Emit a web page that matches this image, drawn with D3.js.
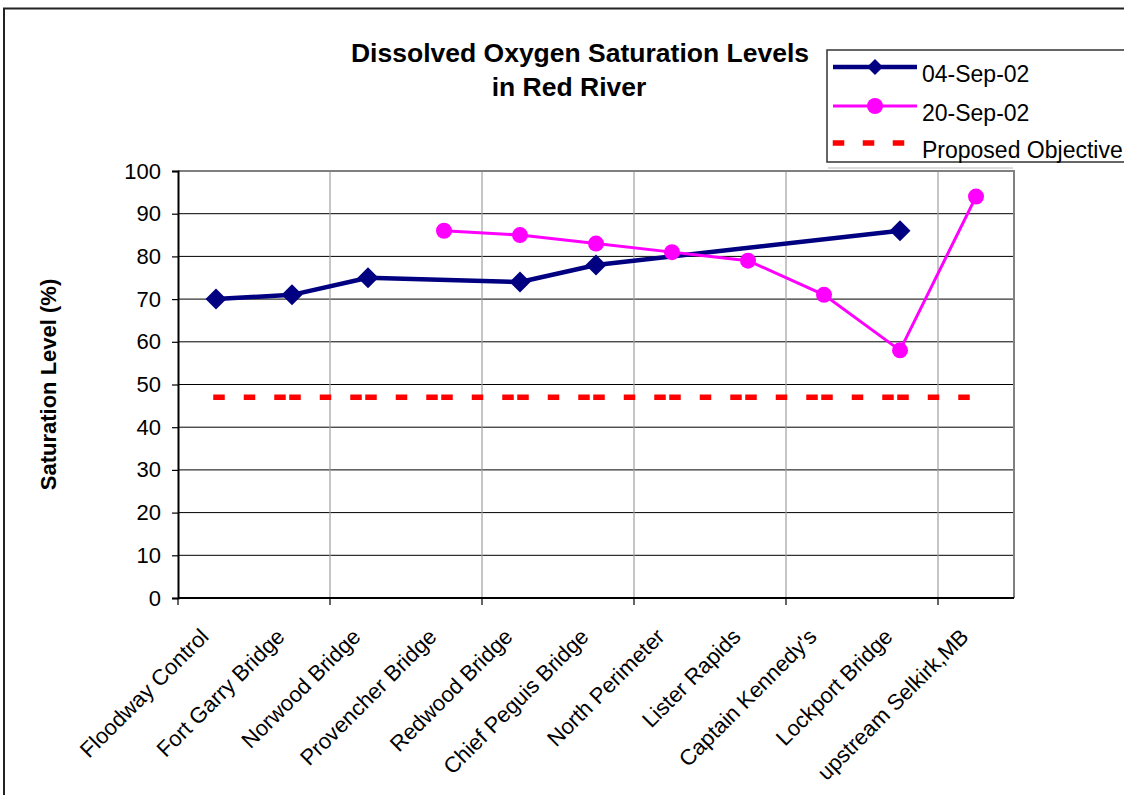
<!DOCTYPE html>
<html>
<head>
<meta charset="utf-8">
<script src="https://cdn.jsdelivr.net/npm/d3@7"></script>
<style>
  html, body { margin: 0; padding: 0; background: #fff; }
  svg { display: block; }
  text { font-family: "Liberation Sans", Arial, sans-serif; fill: #000; }
</style>
</head>
<body>
<svg id="chart" width="1124" height="795"></svg>
<script>
const categories = ["Floodway Control", "Fort Garry Bridge", "Norwood Bridge", "Provencher Bridge",
  "Redwood Bridge", "Chief Peguis Bridge", "North Perimeter", "Lister Rapids",
  "Captain Kennedy's", "Lockport Bridge", "upstream Selkirk,MB"];
const sep04 = [70, 71, 75, null, 74, 78, null, null, null, 86, null];
const sep20 = [null, null, null, 86, 85, 83, 81, 79, 71, 58, 94];
const objective = [47, 47, 47, 47, 47, 47, 47, 47, 47, 47, 47];
const yTicks = [0, 10, 20, 30, 40, 50, 60, 70, 80, 90, 100];
const seriesNames = ["04-Sep-02", "20-Sep-02", "Proposed Objective"];
const titleLines = ["Dissolved Oxygen Saturation Levels", "in Red River"];
const yTitle = "Saturation Level (%)";

const svg = d3.select("#chart");
const L = 178, R = 1014, T = 171, B = 598;

const x = d3.scaleBand().domain(categories).range([L, R]).padding(0);
const cx = c => x(c) + x.bandwidth() / 2;
const y = d3.scaleLinear().domain([0, 100]).range([B, T]);

// outer chart border
svg.append("rect").attr("x", 4).attr("y", 8.5).attr("width", 1300).attr("height", 1000)
  .attr("fill", "none").attr("stroke", "#222").attr("stroke-width", 2);

// title
svg.append("text").attr("x", 580).attr("y", 62).attr("text-anchor", "middle")
  .style("font-size", "26.5px").style("font-weight", "bold").text(titleLines[0]);
svg.append("text").attr("x", 569).attr("y", 96).attr("text-anchor", "middle")
  .style("font-size", "26.5px").style("font-weight", "bold").text(titleLines[1]);

// y title
svg.append("text").attr("transform", `translate(56,${(T + B) / 2}) rotate(-90)`)
  .attr("text-anchor", "middle").style("font-size", "22px").style("font-weight", "bold")
  .text(yTitle);

// horizontal gridlines
svg.append("g").selectAll("line").data(yTicks.filter(d => d > 0 && d < 100)).join("line")
  .attr("x1", L).attr("x2", R).attr("y1", d => y(d)).attr("y2", d => y(d))
  .attr("stroke", "#000").attr("stroke-width", 1);

// vertical gridlines every second category boundary
const boundaryCats = categories.filter((c, i) => i % 2 === 0);
svg.append("g").selectAll("line").data(boundaryCats.slice(1)).join("line")
  .attr("x1", d => x(d)).attr("x2", d => x(d)).attr("y1", T).attr("y2", B)
  .attr("stroke", "#a0a0a0").attr("stroke-width", 1.2);

// plot area border (top/right)
svg.append("path").attr("d", `M${L},${T}H${R}V${B}`).attr("fill", "none")
  .attr("stroke", "#808080").attr("stroke-width", 2);

// y axis
const yAxis = d3.axisLeft(y).tickValues(yTicks).tickSize(6).tickPadding(11);
const gy = svg.append("g").attr("transform", `translate(${L},0)`).call(yAxis);
gy.select(".domain").attr("stroke", "#000").attr("stroke-width", 2);
gy.selectAll(".tick line").attr("stroke", "#000").attr("stroke-width", 1.2);
gy.selectAll(".tick text").style("font-size", "22px").attr("font-family", "Liberation Sans, Arial, sans-serif").attr("fill", "#000");

// x axis line + ticks
svg.append("line").attr("x1", L).attr("x2", R).attr("y1", B).attr("y2", B)
  .attr("stroke", "#000").attr("stroke-width", 2);
svg.append("g").selectAll("line").data(boundaryCats).join("line")
  .attr("x1", d => x(d)).attr("x2", d => x(d)).attr("y1", B).attr("y2", B + 7)
  .attr("stroke", "#000").attr("stroke-width", 1.2);

// x labels
svg.append("g").selectAll("text").data(categories).join("text")
  .attr("transform", d => `translate(${cx(d) - 6},638) rotate(-45)`)
  .attr("text-anchor", "end").style("font-size", "22px").text(d => d);

// objective dashed line (dash pattern restarts at each category)
const objG = svg.append("g");
for (let i = 0; i < categories.length - 1; i++) {
  objG.append("line")
    .attr("x1", cx(categories[i])).attr("x2", cx(categories[i + 1]))
    .attr("y1", y(objective[i])).attr("y2", y(objective[i + 1]))
    .attr("stroke", "#ff0000").attr("stroke-width", 5.5)
    .attr("stroke-dasharray", "6,24.5").attr("stroke-linecap", "square");
}

// series 04-Sep-02
const d1 = categories.map((c, i) => ({ c, v: sep04[i] })).filter(d => d.v !== null);
const line = d3.line().x(d => cx(d.c)).y(d => y(d.v));
svg.append("path").datum(d1).attr("d", line).attr("fill", "none")
  .attr("stroke", "#000080").attr("stroke-width", 4.5).attr("stroke-linejoin", "round");
const diamond = s => `M0,${-s}L${s},0L0,${s}L${-s},0Z`;
svg.append("g").selectAll("path").data(d1).join("path")
  .attr("transform", d => `translate(${cx(d.c)},${y(d.v)})`)
  .attr("d", diamond(10.5)).attr("fill", "#000080");

// series 20-Sep-02
const d2 = categories.map((c, i) => ({ c, v: sep20[i] })).filter(d => d.v !== null);
svg.append("path").datum(d2).attr("d", line).attr("fill", "none")
  .attr("stroke", "#ff00ff").attr("stroke-width", 3);
svg.append("g").selectAll("circle").data(d2).join("circle")
  .attr("cx", d => cx(d.c)).attr("cy", d => y(d.v)).attr("r", 8).attr("fill", "#ff00ff");

// legend
const lg = svg.append("g");
lg.append("line").attr("x1", 828).attr("x2", 1013).attr("y1", 168).attr("y2", 168)
  .attr("stroke", "#d0d0d0").attr("stroke-width", 1.5);
lg.append("rect").attr("x", 827).attr("y", 50).attr("width", 400).attr("height", 112)
  .attr("fill", "#fff").attr("stroke", "#333").attr("stroke-width", 1.5);
const rowY = [67, 106, 143];
lg.append("line").attr("x1", 833).attr("x2", 917).attr("y1", rowY[0]).attr("y2", rowY[0])
  .attr("stroke", "#000080").attr("stroke-width", 4.5);
lg.append("path").attr("transform", `translate(875,${rowY[0]})`).attr("d", diamond(8)).attr("fill", "#000080");
lg.append("line").attr("x1", 833).attr("x2", 917).attr("y1", rowY[1]).attr("y2", rowY[1])
  .attr("stroke", "#ff00ff").attr("stroke-width", 3);
lg.append("circle").attr("cx", 875).attr("cy", rowY[1]).attr("r", 8).attr("fill", "#ff00ff");
lg.append("line").attr("x1", 835.5).attr("x2", 917).attr("y1", rowY[2]).attr("y2", rowY[2])
  .attr("stroke", "#ff0000").attr("stroke-width", 5.5)
  .attr("stroke-dasharray", "6,24").attr("stroke-linecap", "square");
lg.selectAll("text.lt").data(seriesNames).join("text").attr("class", "lt")
  .attr("x", 922).attr("y", (d, i) => rowY[i] + 15).style("font-size", "23px").text(d => d);
</script>
</body>
</html>
